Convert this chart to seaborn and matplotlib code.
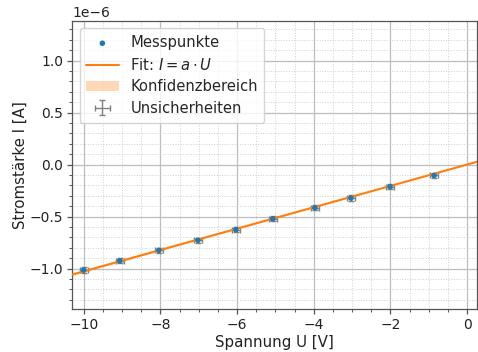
import numpy as np
import pandas as pd
import matplotlib
matplotlib.use("Agg")
import matplotlib.pyplot as plt
import seaborn as sns
from matplotlib.ticker import MultipleLocator

U = [-10.0, -9.06, -8.04, -7.02, -6.03, -5.07, -3.97, -3.03, -2.01, -0.86]
I = [-1.015e-6, -0.925e-6, -0.825e-6, -0.728e-6, -0.625e-6, -0.522e-6,
     -0.415e-6, -0.322e-6, -0.212e-6, -0.105e-6]
U_err = [0.1] * 10
I_err = [0.025e-6] * 10

sns.set_theme(style="whitegrid")
plt.rcParams['font.family'] = ['DejaVu Sans']
FS_T = 10
FS_L = 10.8
FS_LEG = 10.6

df = pd.DataFrame({"U": U, "I": I})
x = np.array(U); y = np.array(I)
a = np.sum(x * y) / np.sum(x * x)
res = y - a * x
sa = np.sqrt(np.sum(res**2) / (len(x) - 1) / np.sum(x * x))

fig = plt.figure(figsize=(4.78, 3.52), dpi=100)
ax = fig.add_axes([0.151, 0.122, 0.847, 0.818])

xf = np.linspace(-10.3, 0.26, 200)
ax.errorbar(U, I, xerr=U_err, yerr=I_err, fmt="none", ecolor="gray",
            elinewidth=1, capsize=2, label="Unsicherheiten", zorder=2)
sns.lineplot(x=xf, y=a * xf, ax=ax, color="#ff7f0e", lw=1.5,
             label=r"Fit: $I = a \cdot U$", zorder=3)
ax.fill_between(xf, (a - 2 * sa) * xf, (a + 2 * sa) * xf, color="#ff7f0e",
                alpha=0.3, lw=0, label="Konfidenzbereich", zorder=2)
sns.scatterplot(data=df, x="U", y="I", ax=ax, color="#1f77b4", s=16,
                marker="o", edgecolor="none", label="Messpunkte", zorder=4)

ax.set_xlim(-10.3, 0.26)
ax.set_ylim(-1.39e-6, 1.38e-6)
ax.xaxis.set_major_locator(MultipleLocator(2))
ax.xaxis.set_minor_locator(MultipleLocator(0.5))
ax.yaxis.set_major_locator(MultipleLocator(0.5e-6))
ax.yaxis.set_minor_locator(MultipleLocator(0.1e-6))
ax.grid(which="major", color="#bdbdbd", lw=0.9, ls="-")
ax.grid(which="minor", color="#cfcfcf", lw=0.7, ls=":")
for s in ax.spines.values():
    s.set_color("#555555")
    s.set_linewidth(0.9)
ax.tick_params(which="major", direction="out", length=3.5, width=0.9,
               color="#555555", labelsize=FS_T, left=True, bottom=True, pad=3,
               labelcolor="#222222")
ax.tick_params(which="minor", direction="out", length=2, width=0.7,
               color="#555555", left=True, bottom=True)
ax.yaxis.get_offset_text().set_fontsize(FS_T)
ax.set_xlabel("Spannung U [V]", fontsize=FS_L, labelpad=2, color="#222222")
ax.set_ylabel("Stromstärke I [A]", fontsize=FS_L, labelpad=1, color="#222222")

h, l = ax.get_legend_handles_labels()
order = ["Messpunkte", r"Fit: $I = a \cdot U$", "Konfidenzbereich", "Unsicherheiten"]
hd = dict(zip(l, h))
leg = ax.legend([hd[k] for k in order], order, loc="upper left", fontsize=FS_LEG,
                frameon=True, framealpha=0.8, borderpad=0.45, labelspacing=0.45,
                handlelength=2.2, handletextpad=0.8, borderaxespad=0.5)
leg.get_frame().set_edgecolor("#cccccc")

fig.savefig("out.png", dpi=100)
